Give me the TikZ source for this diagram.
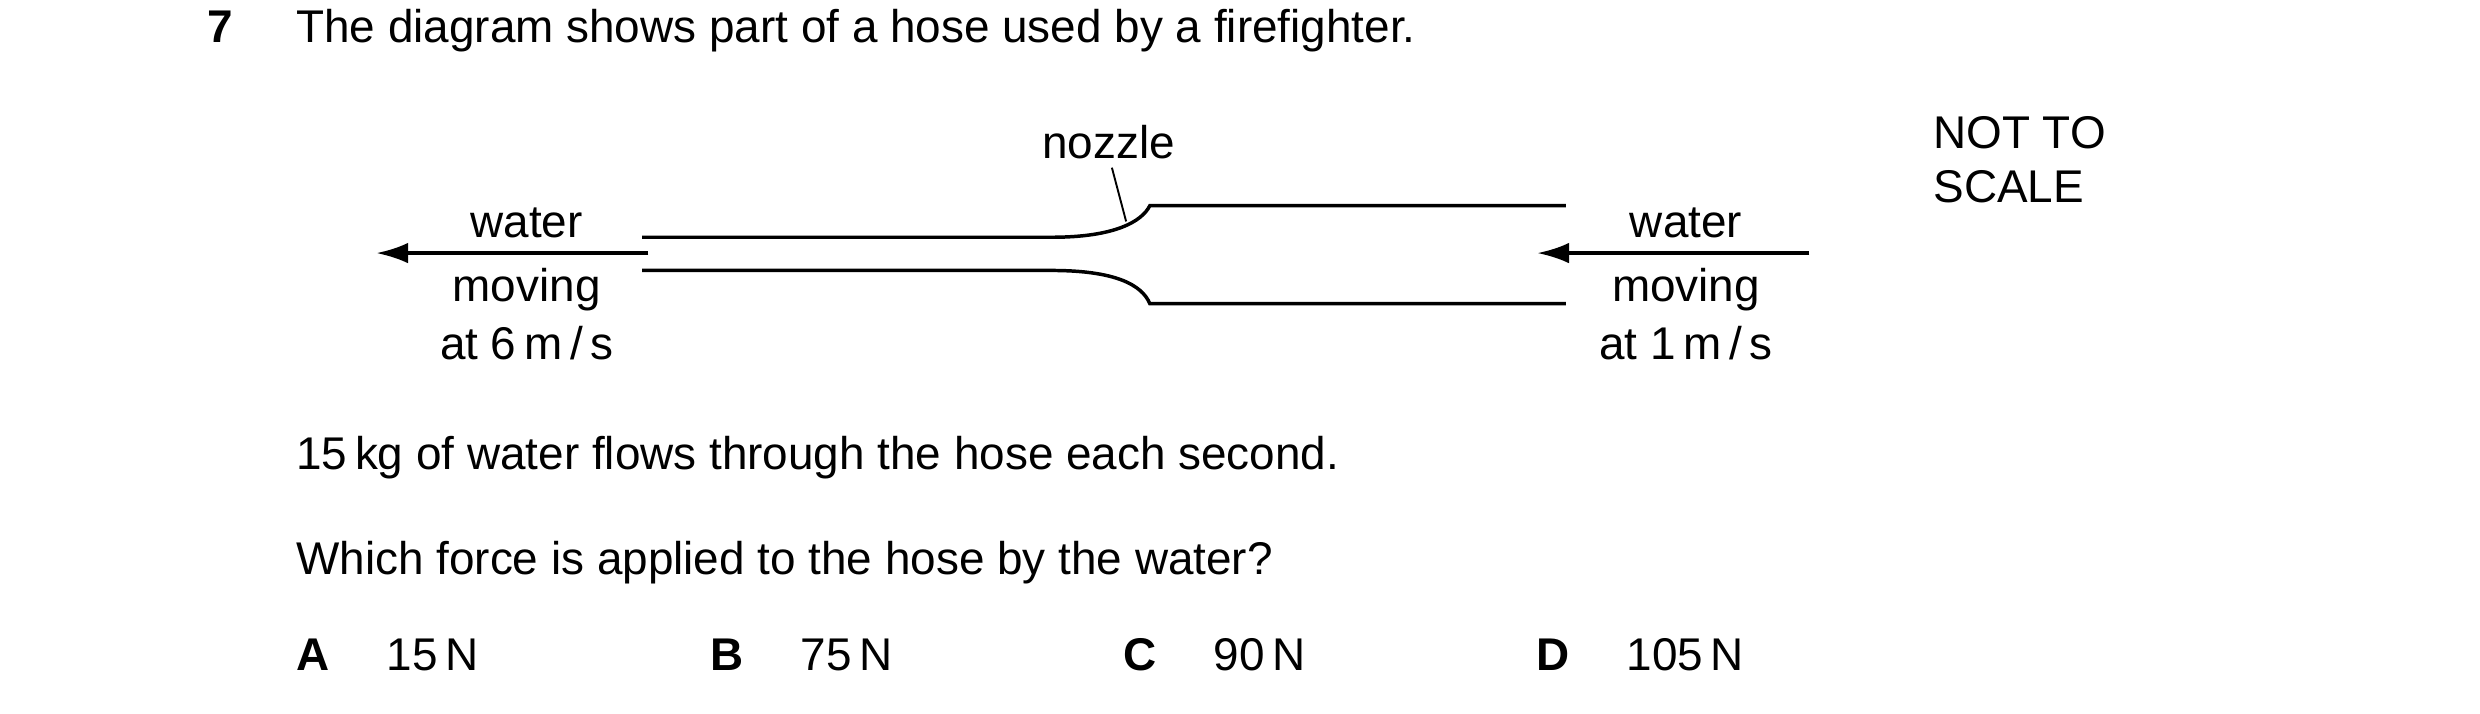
\documentclass[tikz,border=0pt]{standalone}
\usepackage{fontspec}
\setmainfont{Liberation Sans}
\usetikzlibrary{arrows.meta}
\begin{document}
\begin{tikzpicture}[x=0.5pt,y=-0.5pt,
  txt/.style={inner sep=0pt,font=\fontsize{14.5}{17}\selectfont},
  lt/.style={txt,anchor=base west},
  hose/.style={line width=1.1pt},
  arr/.style={line width=1.1pt,-{Latex[length=10pt,width=6.5pt]}}]
\useasboundingbox (0,0) rectangle (1568,451);
\node[lt,font=\fontsize{14.5}{17}\selectfont\bfseries] (q) at (131,27) {7};
\node[lt] (t1) at (187,27) {The diagram shows part of a hose used by a firefighter.};
% hose
\draw[hose] (406,150) -- (665,150) .. controls (705,150) and (722,140) .. (727,130) -- (990,130);
\draw[hose] (406,171) -- (665,171) .. controls (705,171) and (722,180) .. (727,192) -- (990,192);
\node[txt] (noz) at (701,90) {nozzle};
\coordinate (nz) at (712,140);
\draw[line width=0.6pt] (703,106) -- (nz);
% arrows
\coordinate (la) at (410,160); \coordinate (lb) at (238,160);
\draw[arr] (la) -- (lb);
\coordinate (ra) at (1144,160); \coordinate (rb) at (972,160);
\draw[arr] (ra) -- (rb);
\node[txt] (w1) at (333,141) {water};
\node[txt] (m1) at (333,183) {moving};
\node[txt] (s1) at (333,217) {at 6\,m\,/\,s};
\node[txt] (w2) at (1066,141) {water};
\node[txt] (m2) at (1066,183) {moving};
\node[txt] (s2) at (1066,217) {at 1\,m\,/\,s};
\node[lt] (n1) at (1222,94) {NOT TO};
\node[lt] (n2) at (1222,128) {SCALE};
\node[lt] (t2) at (187,297) {15\,kg of water flows through the hose each second.};
\node[lt] (t3) at (187,363) {Which force is applied to the hose by the water?};
\foreach \l/\x/\v in {A/187/15\,N,B/449/75\,N,C/710/90\,N,D/971/105\,N}{
  \node[lt,font=\fontsize{14.5}{17}\selectfont\bfseries] (o\l) at (\x,424) {\l};
  \node[lt] (v\l) at (\x+57,424) {\v};
}
\end{tikzpicture}
\end{document}
